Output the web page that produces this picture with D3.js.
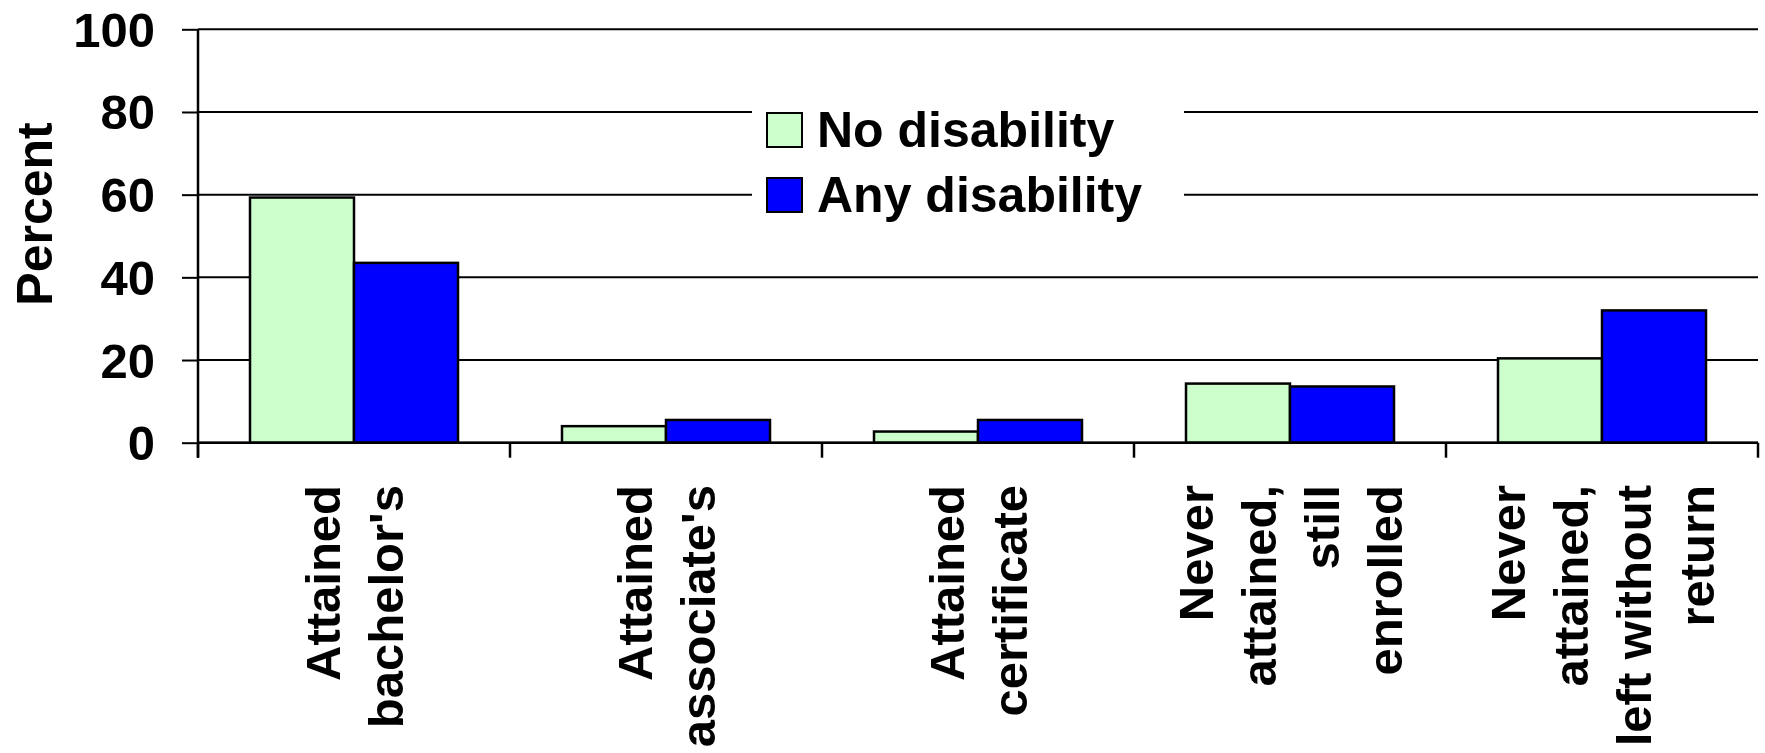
<!DOCTYPE html>
<html>
<head>
<meta charset="utf-8">
<script src="https://cdn.jsdelivr.net/npm/d3@7"></script>
<style>
  html, body { margin: 0; padding: 0; background: #fff; }
  svg { display: block; }
  text { font-family: "Liberation Sans", Arial, Helvetica, sans-serif; font-weight: bold; fill: #000; }
</style>
</head>
<body>
<svg id="chart" width="1765" height="753"></svg>
<script>
// Educational outcomes by disability status (percent)
const categories = [
  "Attained bachelor's",
  "Attained associate's",
  "Attained certificate",
  "Never attained, still enrolled",
  "Never attained, left without return"
];
const categoryLines = [
  ["Attained", "bachelor's"],
  ["Attained", "associate's"],
  ["Attained", "certificate"],
  ["Never", "attained,", "still", "enrolled"],
  ["Never", "attained,", "left without", "return"]
];
const seriesNames = ["No disability", "Any disability"];
const noDisability = [59.3, 4.0, 2.7, 14.3, 20.4];
const anyDisability = [43.5, 5.5, 5.5, 13.6, 32.0];
const yTicks = [0, 20, 40, 60, 80, 100];
const seriesColors = ["#CCFFCC", "#0000FF"];

const svg = d3.select("#chart");

const plot = { left: 198, right: 1758, top: 29.3, bottom: 442.7 };

const y = d3.scaleLinear().domain([0, 100]).range([plot.bottom, plot.top]);
const x0 = d3.scaleBand().domain(categories).range([plot.left, plot.right]).padding(0);
const x1 = d3.scaleBand().domain(seriesNames).range([0, x0.bandwidth()])
  .paddingInner(0).paddingOuter(0.5);
const color = d3.scaleOrdinal().domain(seriesNames).range(seriesColors);

const rows = categories.map((c, i) => ({
  category: c,
  values: [
    { series: seriesNames[0], value: noDisability[i] },
    { series: seriesNames[1], value: anyDisability[i] }
  ]
}));

// Horizontal gridlines
svg.append("g")
  .selectAll("line")
  .data(yTicks)
  .join("line")
  .attr("x1", plot.left)
  .attr("x2", plot.right)
  .attr("y1", d => y(d))
  .attr("y2", d => y(d))
  .attr("stroke", "#000")
  .attr("stroke-width", 2);

// Legend (white panel interrupts gridlines)
const legend = svg.append("g");
legend.append("rect")
  .attr("x", 752).attr("y", 90)
  .attr("width", 432).attr("height", 138)
  .attr("fill", "#fff");
const legendItems = legend.selectAll("g.item")
  .data(seriesNames)
  .join("g")
  .attr("class", "item")
  .attr("transform", (d, i) => `translate(767, ${113 + i * 65})`);
legendItems.append("rect")
  .attr("width", 35).attr("height", 34)
  .attr("fill", d => color(d))
  .attr("stroke", "#000").attr("stroke-width", 2);
legendItems.append("text")
  .attr("x", 50).attr("y", 33.5)
  .style("font-size", "50px")
  .text(d => d);

// Bars
const groups = svg.append("g")
  .selectAll("g")
  .data(rows)
  .join("g")
  .attr("transform", d => `translate(${x0(d.category)},0)`);
groups.selectAll("rect")
  .data(d => d.values)
  .join("rect")
  .attr("x", d => x1(d.series))
  .attr("width", x1.bandwidth())
  .attr("y", d => y(d.value))
  .attr("height", d => y(0) - y(d.value))
  .attr("fill", d => color(d.series))
  .attr("stroke", "#000")
  .attr("stroke-width", 2.5);

// Y axis with tick labels
const yAxis = svg.append("g")
  .attr("transform", `translate(${plot.left},0)`)
  .call(d3.axisLeft(y).tickValues(yTicks).tickSize(16).tickPadding(27));
yAxis.select(".domain").remove();
yAxis.selectAll(".tick line").attr("stroke", "#000").attr("stroke-width", 2);
yAxis.selectAll(".tick text")
  .attr("dy", null)
  .attr("dominant-baseline", "central")
  .style("font-size", "49px")
  .style("font-family", "'Liberation Sans', Arial, sans-serif")
  .style("font-weight", "bold");

// Axis lines
svg.append("line")
  .attr("x1", plot.left).attr("x2", plot.left)
  .attr("y1", plot.top).attr("y2", plot.bottom + 15)
  .attr("stroke", "#000").attr("stroke-width", 2.5);
svg.append("line")
  .attr("x1", plot.left).attr("x2", plot.right)
  .attr("y1", plot.bottom).attr("y2", plot.bottom)
  .attr("stroke", "#000").attr("stroke-width", 2.5);

// Category boundary ticks
const boundaries = categories.map(c => x0(c)).concat([x0(categories[categories.length - 1]) + x0.bandwidth()]);
svg.append("g")
  .selectAll("line")
  .data(boundaries)
  .join("line")
  .attr("x1", d => d).attr("x2", d => d)
  .attr("y1", plot.bottom).attr("y2", plot.bottom + 15)
  .attr("stroke", "#000").attr("stroke-width", 2.5);

// Rotated category labels
const lineHeight = 62.7;
const labelGroups = svg.append("g")
  .selectAll("g")
  .data(categories)
  .join("g")
  .attr("transform", c => `translate(${x0(c) + x0.bandwidth() / 2}, 485) rotate(-90)`);
labelGroups.each(function(c, i) {
  const lines = categoryLines[i];
  const n = lines.length;
  d3.select(this).selectAll("text")
    .data(lines)
    .join("text")
    .attr("text-anchor", "end")
    .attr("x", 0)
    .attr("y", (d, j) => (j - (n - 1) / 2) * lineHeight + 17.5)
    .style("font-size", "49px")
    .text(d => d);
});

// Y axis title
svg.append("text")
  .attr("transform", "translate(52, 214) rotate(-90)")
  .attr("text-anchor", "middle")
  .style("font-size", "50px")
  .text("Percent");
</script>
</body>
</html>
